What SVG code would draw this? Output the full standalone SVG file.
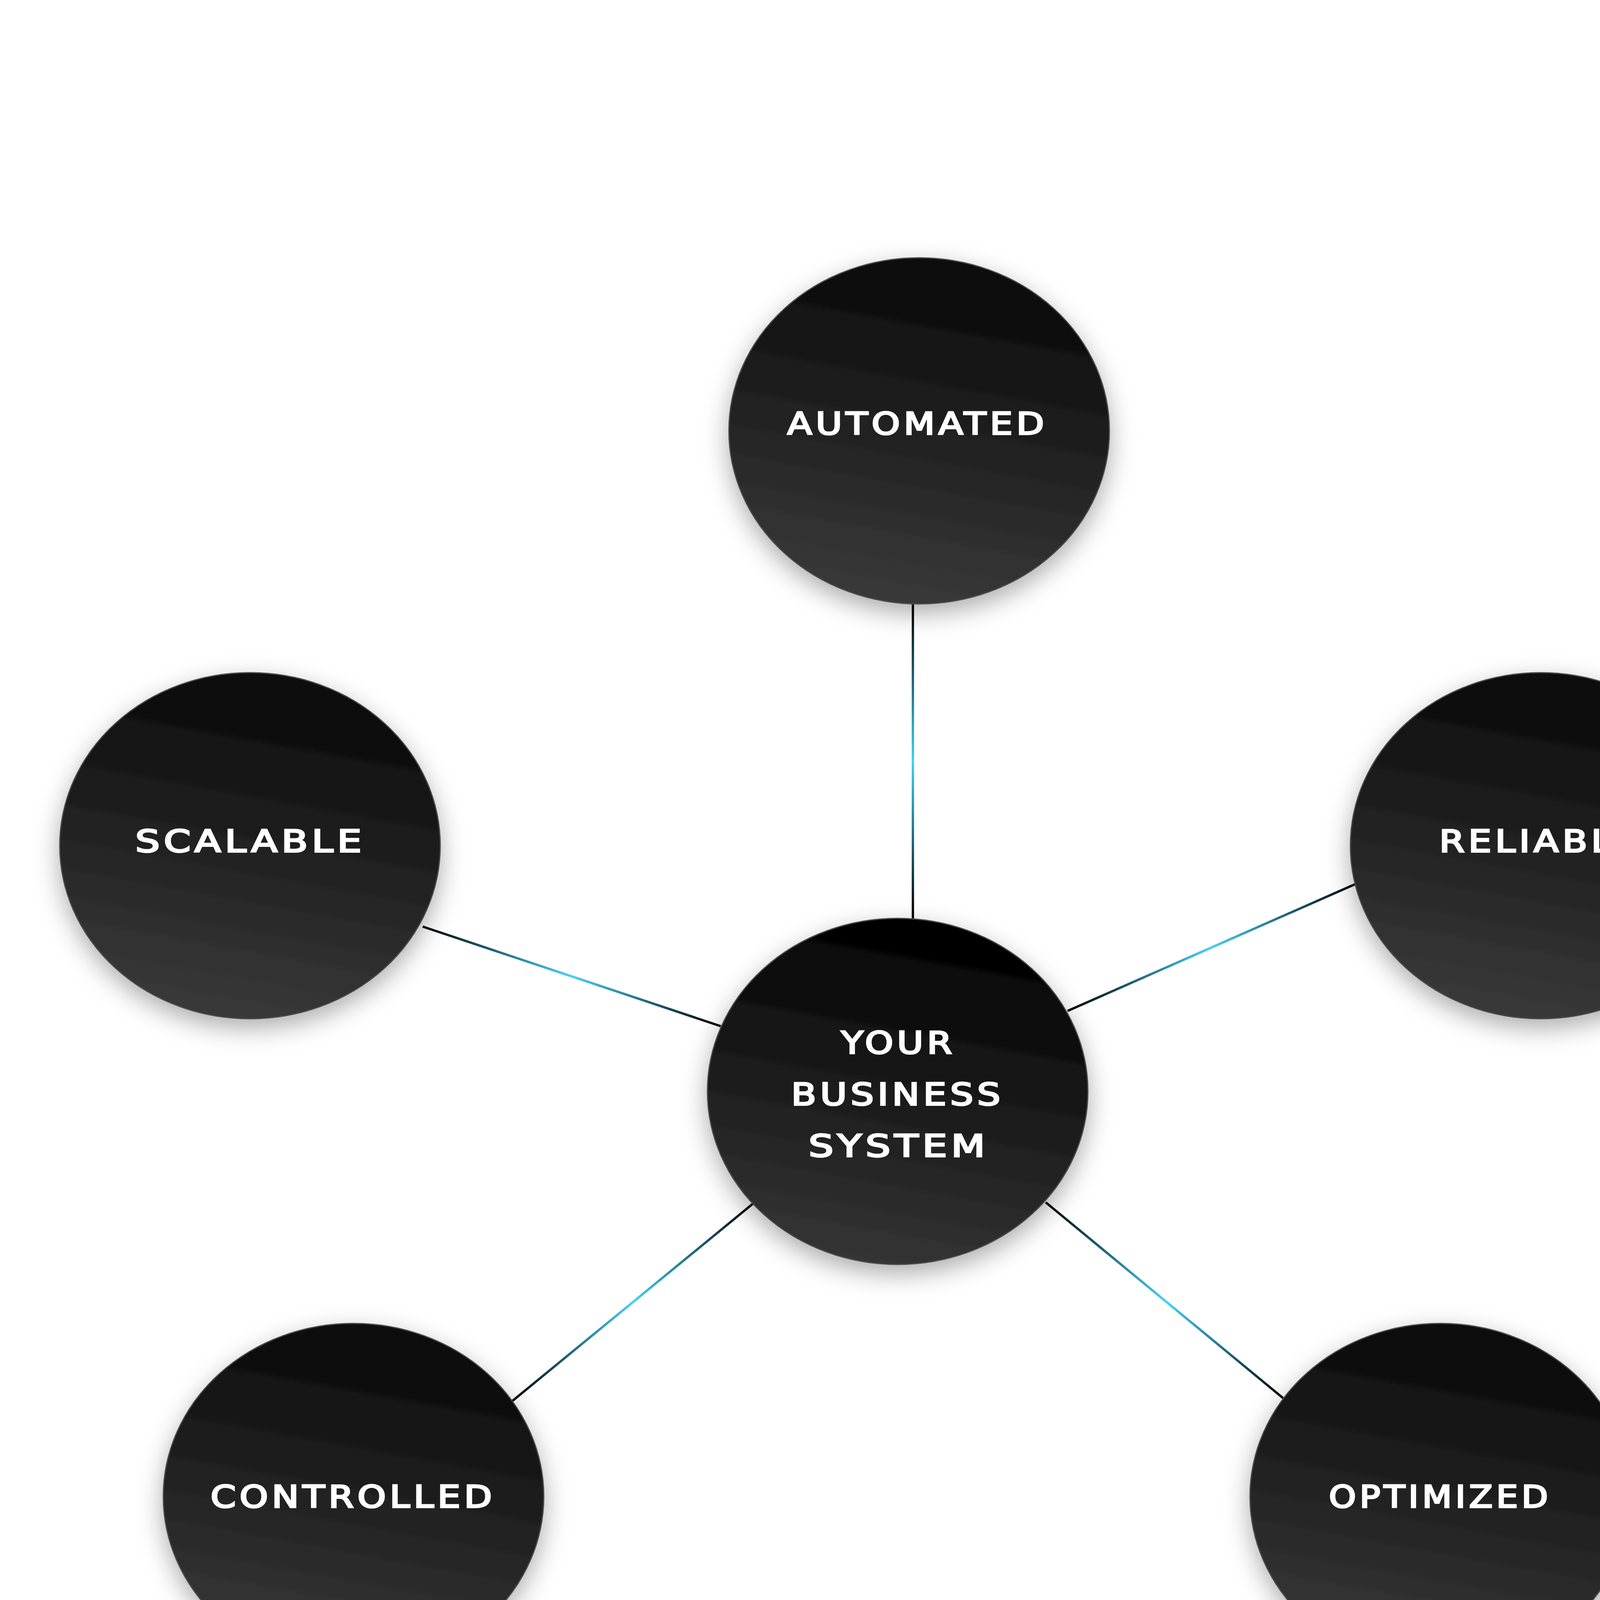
<svg xmlns="http://www.w3.org/2000/svg" width="4820" height="5422" viewBox="0 0 4820 5422">
<style>
.node{stroke:#4a4a4a;stroke-width:3;filter:url(#sh)}
.lbl{font-family:"DejaVu Sans","Liberation Sans",sans-serif;font-weight:normal;font-size:78px;fill:#ffffff;stroke:#ffffff;stroke-width:4;letter-spacing:8px;text-anchor:middle}
.con{fill:none;stroke-width:6}
</style>
<defs>
<filter id="sh" x="-30%" y="-30%" width="160%" height="170%">
<feDropShadow dx="0" dy="22" stdDeviation="32" flood-color="#000" flood-opacity="0.33"/>
</filter>
<linearGradient id="nf" x1="0.6" y1="0" x2="0.4" y2="1">
<stop offset="0" stop-color="#070707"/>
<stop offset="1" stop-color="#3a3a3a"/>
</linearGradient>
<linearGradient id="cf" x1="0.6" y1="0" x2="0.4" y2="1">
<stop offset="0" stop-color="#000000"/>
<stop offset="1" stop-color="#353535"/>
</linearGradient>
<linearGradient id="g1" gradientUnits="userSpaceOnUse" x1="2337" y1="1546" x2="2337" y2="2351">
<stop offset="0" stop-color="#000"/><stop offset="0.5" stop-color="#43d2fa"/><stop offset="1" stop-color="#000"/>
</linearGradient>
<linearGradient id="g2" gradientUnits="userSpaceOnUse" x1="1082" y1="2372" x2="1845" y2="2627">
<stop offset="0" stop-color="#000"/><stop offset="0.5" stop-color="#43d2fa"/><stop offset="1" stop-color="#000"/>
</linearGradient>
<linearGradient id="g3" gradientUnits="userSpaceOnUse" x1="3468" y1="2264" x2="2733" y2="2588">
<stop offset="0" stop-color="#000"/><stop offset="0.5" stop-color="#43d2fa"/><stop offset="1" stop-color="#000"/>
</linearGradient>
<linearGradient id="g4" gradientUnits="userSpaceOnUse" x1="1311" y1="3587" x2="1928" y2="3081">
<stop offset="0" stop-color="#000"/><stop offset="0.5" stop-color="#43d2fa"/><stop offset="1" stop-color="#000"/>
</linearGradient>
<linearGradient id="g5" gradientUnits="userSpaceOnUse" x1="3293" y1="3586" x2="2677" y2="3078">
<stop offset="0" stop-color="#000"/><stop offset="0.5" stop-color="#43d2fa"/><stop offset="1" stop-color="#000"/>
</linearGradient>
</defs>
<rect width="4820" height="5422" fill="#ffffff"/>
<g id="connectors">
<line class="con" stroke="url(#g1)" x1="2337" y1="1546" x2="2337" y2="2351"/>
<line class="con" stroke="url(#g2)" x1="1082" y1="2372" x2="1845" y2="2627"/>
<line class="con" stroke="url(#g3)" x1="3468" y1="2264" x2="2733" y2="2588"/>
<line class="con" stroke="url(#g4)" x1="1311" y1="3587" x2="1928" y2="3081"/>
<line class="con" stroke="url(#g5)" x1="3293" y1="3586" x2="2677" y2="3078"/>
</g>
<g id="node-automated">
<ellipse class="node" fill="url(#nf)" cx="2353" cy="1103" rx="487" ry="443"/>
<text class="lbl" x="2349" y="1112" textLength="667" lengthAdjust="spacingAndGlyphs">AUTOMATED</text>
</g>
<g id="node-scalable">
<ellipse class="node" fill="url(#nf)" cx="640" cy="2165" rx="487" ry="443"/>
<text class="lbl" x="641" y="2181" textLength="589" lengthAdjust="spacingAndGlyphs">SCALABLE</text>
</g>
<g id="node-reliable">
<ellipse class="node" fill="url(#nf)" cx="3944" cy="2165" rx="487" ry="443"/>
<text class="lbl" x="3944" y="2181" textLength="519" lengthAdjust="spacingAndGlyphs">RELIABLE</text>
</g>
<g id="node-controlled">
<ellipse class="node" fill="url(#nf)" cx="905" cy="3831" rx="487" ry="443"/>
<text class="lbl" x="904" y="3859" textLength="730" lengthAdjust="spacingAndGlyphs">CONTROLLED</text>
</g>
<g id="node-optimized">
<ellipse class="node" fill="url(#nf)" cx="3687" cy="3831" rx="487" ry="443"/>
<text class="lbl" x="3687" y="3859" textLength="570" lengthAdjust="spacingAndGlyphs">OPTIMIZED</text>
</g>
<g id="node-center">
<ellipse class="node" fill="url(#cf)" stroke="#1a1a1a" cx="2298" cy="2794" rx="487" ry="443"/>
<text class="lbl" x="2300" y="2697" textLength="293" lengthAdjust="spacingAndGlyphs">YOUR</text>
<text class="lbl" x="2298" y="2829" textLength="545" lengthAdjust="spacingAndGlyphs">BUSINESS</text>
<text class="lbl" x="2301" y="2961" textLength="462" lengthAdjust="spacingAndGlyphs">SYSTEM</text>
</g>
</svg>
